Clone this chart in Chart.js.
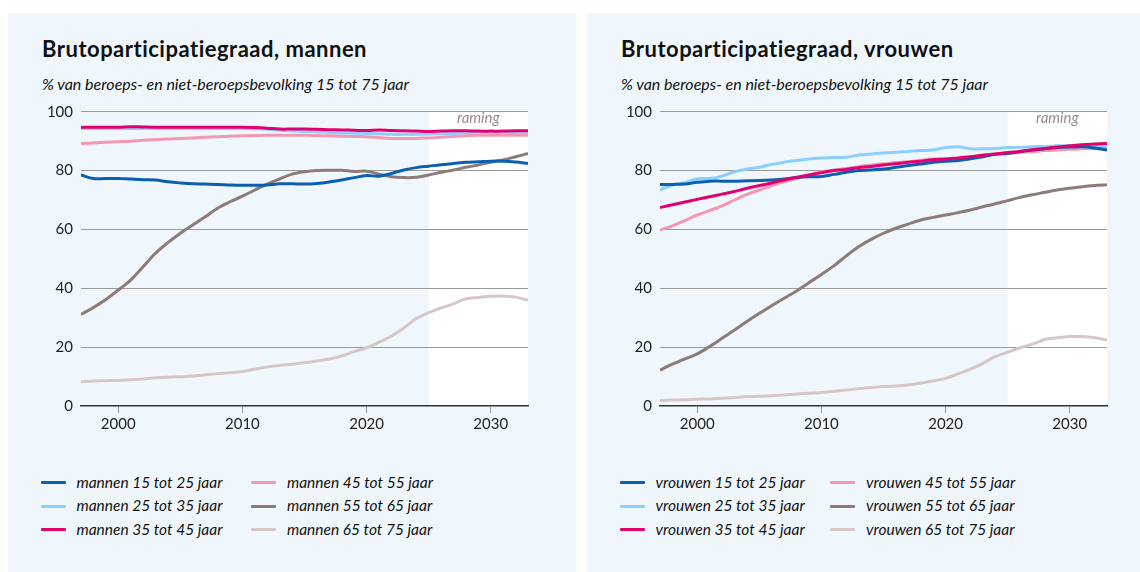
<!DOCTYPE html>
<html><head><meta charset="utf-8">
<script src="https://cdn.jsdelivr.net/npm/chart.js@4.4.0/dist/chart.umd.min.js"></script>
<style>
body{margin:0;width:1140px;height:572px;background:#fff;position:relative;overflow:hidden;font-family:Lato,"Open Sans",sans-serif;}
.panel{position:absolute;top:13px;height:559px;background:#EFF7FD;}
#p1{left:8px;width:568px;}
#p2{left:587px;width:553px;}
.title{position:absolute;left:34px;top:25px;font-weight:bold;font-size:22px;line-height:22px;letter-spacing:0.5px;color:#111;white-space:nowrap;}
.sub{position:absolute;left:34px;top:63px;font-style:italic;font-size:16px;line-height:16px;color:#111;white-space:nowrap;}
.cv{position:absolute;left:0;top:87px;height:340px;}
.leg{position:absolute;left:0;top:0;}
.li{position:absolute;font-style:italic;font-size:15.5px;line-height:16px;color:#111;white-space:nowrap;}
.sw{position:absolute;width:25px;height:3px;border-radius:1px;}
</style>
</head><body>
<div class="panel" id="p1">
  <div class="title">Brutoparticipatiegraad, mannen</div>
  <div class="sub">% van beroeps- en niet-beroepsbevolking 15 tot 75 jaar</div>
  <div class="cv" style="width:568px"><canvas id="c1" width="568" height="340"></canvas></div>
  <div class="leg" id="l1"></div>
</div>
<div class="panel" id="p2">
  <div class="title">Brutoparticipatiegraad, vrouwen</div>
  <div class="sub">% van beroeps- en niet-beroepsbevolking 15 tot 75 jaar</div>
  <div class="cv" style="width:553px"><canvas id="c2" width="553" height="340"></canvas></div>
  <div class="leg" id="l2"></div>
</div>
<script>
const years = [1997,1998,1999,2000,2001,2002,2003,2004,2005,2006,2007,2008,2009,2010,2011,2012,2013,2014,2015,2016,2017,2018,2019,2020,2021,2022,2023,2024,2025,2026,2027,2028,2029,2030,2031,2032,2033];
const xTicks = [2000,2010,2020,2030];
const yTicks = [0,20,40,60,80,100];
const forecastStart = 2025;
const forecastLabel = "raming";

const groupLabels = ["15 tot 25 jaar","25 tot 35 jaar","35 tot 45 jaar","45 tot 55 jaar","55 tot 65 jaar","65 tot 75 jaar"];
const seriesColors = ["#0B5FB0","#8CCFFF","#E2006F","#F497B3","#8C7B78","#D6C6C7"];
const drawOrder = [1,4,0,3,2,5];

const men15_25 = [78.5,77.3,77.3,77.3,77.1,76.9,76.8,76.2,75.8,75.5,75.4,75.3,75.1,75.0,75.0,75.1,75.5,75.5,75.4,75.6,76.1,76.8,77.6,78.3,78.1,79.0,80.2,81.0,81.5,82.0,82.4,82.8,83.0,83.2,83.2,82.9,82.4];
const men25_35 = [94.3,94.3,94.3,94.3,94.3,94.3,94.3,94.3,94.3,94.3,94.3,94.3,94.3,94.3,94.2,94.0,93.7,93.5,93.3,93.2,93.0,92.8,92.7,92.6,92.5,92.3,92.3,92.3,92.4,92.5,92.6,92.7,92.7,92.7,92.7,92.6,92.6];
const men35_45 = [94.7,94.7,94.7,94.7,94.9,94.8,94.7,94.7,94.7,94.7,94.7,94.7,94.7,94.7,94.6,94.4,94.1,94.1,94.1,94.0,93.9,93.8,93.7,93.6,93.8,93.6,93.5,93.4,93.3,93.4,93.5,93.5,93.4,93.4,93.4,93.5,93.5];
const men45_55 = [89.2,89.4,89.6,89.8,90.0,90.3,90.5,90.7,90.9,91.1,91.3,91.5,91.7,91.8,91.9,92.0,92.0,92.0,92.0,91.9,91.8,91.7,91.6,91.5,91.2,90.9,90.9,90.9,91.1,91.3,91.6,91.8,92.0,92.0,92.0,92.0,92.0];
const men55_65 = [31.1,33.5,36.2,39.4,42.8,47.3,51.9,55.5,58.7,61.5,64.3,67.2,69.4,71.3,73.4,75.4,77.2,78.8,79.6,80.0,80.1,80.1,79.7,79.8,78.8,77.9,77.6,77.7,78.5,79.4,80.2,81.1,81.9,82.8,83.6,84.7,85.8];
const men65_75 = [8.2,8.5,8.6,8.7,8.9,9.2,9.6,9.8,9.9,10.2,10.6,11.0,11.3,11.7,12.5,13.3,13.8,14.2,14.7,15.3,16.0,17.0,18.5,19.8,21.7,23.8,26.5,29.7,31.7,33.3,34.7,36.4,36.9,37.3,37.4,37.0,35.9];

const women15_25 = [75.3,75.3,75.4,76.0,76.4,76.4,76.4,76.5,76.6,76.8,77.1,77.6,77.9,78.0,78.7,79.4,80.0,80.2,80.5,81.1,81.7,82.2,82.8,83.2,83.4,84.0,84.7,85.5,85.8,86.4,87.0,87.4,87.8,88.0,88.1,87.7,87.0];
const women25_35 = [73.4,75.1,75.9,77.2,77.3,78.1,79.6,80.5,81.1,82.1,82.8,83.4,83.9,84.3,84.4,84.5,85.3,85.6,86.0,86.2,86.5,86.8,87.0,87.8,88.1,87.4,87.4,87.5,87.8,87.9,88.1,88.2,88.4,88.5,88.6,88.5,88.1];
const women35_45 = [67.4,68.4,69.3,70.2,71.1,72.0,72.9,74.0,74.9,75.8,76.8,77.7,78.5,79.3,80.0,80.4,81.0,81.4,81.9,82.3,82.8,83.2,83.7,83.9,84.3,84.7,85.2,85.6,86.1,86.5,87.1,87.5,88.0,88.4,88.8,89.0,89.2];
const women45_55 = [59.8,61.2,63.0,64.9,66.4,68.0,70.0,71.9,73.4,74.9,76.2,77.3,78.5,79.6,80.2,80.7,81.3,81.9,82.3,82.7,83.0,83.5,83.9,83.9,84.1,84.5,85.3,85.6,85.8,86.2,86.4,86.8,87.0,87.2,87.4,87.5,87.4];
const women55_65 = [12.2,14.2,16.0,17.7,20.2,23.0,25.8,28.7,31.5,34.1,36.6,39.1,41.9,44.7,47.6,51.0,54.1,56.6,58.7,60.4,61.8,63.2,64.1,64.9,65.7,66.6,67.7,68.7,69.8,70.9,71.8,72.6,73.4,74.0,74.5,74.9,75.2];
const women65_75 = [1.9,2.0,2.1,2.3,2.4,2.6,2.9,3.2,3.3,3.5,3.7,4.1,4.3,4.6,5.0,5.4,5.9,6.3,6.6,6.8,7.1,7.8,8.5,9.4,10.9,12.5,14.5,16.8,18.3,19.8,21.0,22.6,23.2,23.6,23.6,23.2,22.4];

const menSeries = [men15_25,men25_35,men35_45,men45_55,men55_65,men65_75];
const womenSeries = [women15_25,women25_35,women35_45,women45_55,women55_65,women65_75];

const FONT = 'Lato, "Open Sans", sans-serif';

const forecastPlugin = {
  id:'forecast',
  beforeDraw(chart){
    const {ctx, chartArea:a, scales:{x}} = chart;
    const xs = x.getPixelForValue(forecastStart);
    ctx.save();
    ctx.fillStyle = '#ffffff';
    ctx.fillRect(xs, a.top, a.right - xs, a.bottom - a.top);
    ctx.restore();
  },
  afterDraw(chart){
    const {ctx, chartArea:a, scales:{x}} = chart;
    const xs = x.getPixelForValue(forecastStart);
    ctx.save();
    ctx.fillStyle = '#9C8B89';
    ctx.font = 'italic 15px ' + FONT;
    ctx.textAlign = 'center';
    ctx.textBaseline = 'alphabetic';
    ctx.fillText(forecastLabel, (xs + a.right)/2, a.top + 11);
    ctx.restore();
  }
};

function makeChart(id, series, prefix, padRight){
  const datasets = series.map((vals, i) => ({
    label: prefix + ' ' + groupLabels[i],
    data: years.map((yr, j) => ({x: yr, y: vals[j]})),
    borderColor: seriesColors[i],
    backgroundColor: seriesColors[i],
    borderWidth: 3,
    pointRadius: 0,
    tension: 0.35,
    order: drawOrder[i],
    fill: false
  }));
  return new Chart(document.getElementById(id), {
    type: 'line',
    data: {datasets},
    plugins: [forecastPlugin],
    options: {
      responsive: false,
      animation: false,
      events: [],
      layout: {padding: {top: 11.7, right: padRight, left: 0, bottom: 0}},
      plugins: {legend: {display: false}, tooltip: {enabled: false}, title:{display:false}},
      scales: {
        x: {
          type: 'linear', min: years[0], max: years[years.length-1],
          afterBuildTicks: s => { s.ticks = xTicks.map(v => ({value: v})); },
          afterFit: s => { s.height = 34; s.paddingLeft = 0; s.paddingRight = 0; },
          grid: {drawOnChartArea: false, drawTicks: true, tickLength: 7, color: '#9a9a9a', lineWidth: 1},
          border: {display: true, color: '#333', width: 1.5},
          ticks: {padding: 2, color: '#222', font: {family: FONT, size: 15}, callback: v => String(v), maxRotation: 0, autoSkip: false}
        },
        y: {
          type: 'linear', min: 0, max: 100,
          afterBuildTicks: s => { s.ticks = yTicks.map(v => ({value: v})); },
          afterFit: s => { s.width = 73; s.paddingTop = 0; s.paddingBottom = 0; },
          grid: {drawTicks: false, color: ctx => ctx.tick && ctx.tick.value === 0 ? 'rgba(0,0,0,0)' : '#9a9a9a', lineWidth: 1},
          border: {display: false},
          ticks: {padding: 8, color: '#222', font: {family: FONT, size: 15}, callback: v => String(v)}
        }
      }
    }
  });
}

function makeLegend(id, prefix){
  const el = document.getElementById(id);
  const rowsY = [469.7, 493.2, 516.7];
  groupLabels.forEach((g, i) => {
    const col = Math.floor(i / 3), row = i % 3;
    const sx = col === 0 ? 33 : 243;
    const tx = col === 0 ? 68.5 : 279;
    const sw = document.createElement('div');
    sw.className = 'sw';
    sw.style.left = sx + 'px';
    sw.style.top = (rowsY[row] - 1.5) + 'px';
    sw.style.background = seriesColors[i];
    el.appendChild(sw);
    const t = document.createElement('div');
    t.className = 'li';
    t.style.left = tx + 'px';
    t.style.top = (rowsY[row] - 9) + 'px';
    t.textContent = prefix + ' ' + g;
    el.appendChild(t);
  });
}

makeChart('c1', menSeries, 'mannen', 48);
makeChart('c2', womenSeries, 'vrouwen', 33);
makeLegend('l1', 'mannen');
makeLegend('l2', 'vrouwen');
</script>
</body></html>
